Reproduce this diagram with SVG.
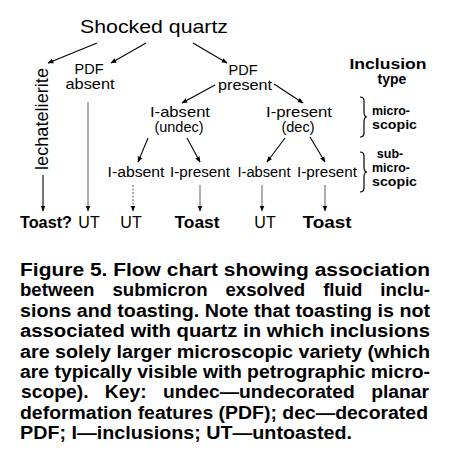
<svg xmlns="http://www.w3.org/2000/svg" width="449" height="471" viewBox="0 0 449 471">
<style>
text{font-family:"Liberation Sans",Arial,sans-serif;fill:#000}
.n{font-size:14.5px}
.r{font-size:14px}
.b{font-weight:bold}
.o{font-size:16px}
.lg{font-size:12.5px;font-weight:bold}
.cap{font-size:17.5px;font-weight:bold}
.c{stroke:#000;stroke-width:1.1;fill:none;marker-end:url(#ah)}
.t{stroke:#333;stroke-width:0.8;fill:none;marker-end:url(#ah)}
.br{stroke:#000;stroke-width:1.2;fill:none}
</style>
<defs>
<marker id="ah" viewBox="0 0 10 10" refX="9" refY="5" markerWidth="6" markerHeight="6" orient="auto" markerUnits="userSpaceOnUse">
<path d="M0,1 L10,5 L0,9 z" fill="#000"/>
</marker>
</defs>
<rect width="449" height="471" fill="#fff"/>

<g id="root"><text x="80" y="33" font-size="19" textLength="148" lengthAdjust="spacingAndGlyphs">Shocked quartz</text></g>
<g id="lechatelierite"><text transform="translate(48,170) rotate(-90)" font-size="18" textLength="102" lengthAdjust="spacingAndGlyphs">lechatelierite</text></g>
<g id="pdf-absent"><text x="89" y="74" class="n" text-anchor="middle">PDF</text><text x="90" y="89" class="n" text-anchor="middle" textLength="49" lengthAdjust="spacingAndGlyphs">absent</text></g>
<g id="pdf-present"><text x="243" y="75" class="n" text-anchor="middle">PDF</text><text x="245" y="90" class="n" text-anchor="middle" textLength="54" lengthAdjust="spacingAndGlyphs">present</text></g>
<g id="i-absent-undec"><text x="180" y="117" class="n" text-anchor="middle" textLength="60" lengthAdjust="spacingAndGlyphs">I-absent</text><text x="179" y="132" class="n" text-anchor="middle">(undec)</text></g>
<g id="i-present-dec"><text x="299" y="117" class="n" text-anchor="middle" textLength="66" lengthAdjust="spacingAndGlyphs">I-present</text><text x="298" y="132" class="n" text-anchor="middle">(dec)</text></g>
<g id="i-absent-1"><text x="136" y="177" class="r" text-anchor="middle" textLength="57" lengthAdjust="spacingAndGlyphs">I-absent</text></g>
<g id="i-present-1"><text x="200" y="177" class="r" text-anchor="middle" textLength="60" lengthAdjust="spacingAndGlyphs">I-present</text></g>
<g id="i-absent-2"><text x="264" y="177" class="r" text-anchor="middle" textLength="53" lengthAdjust="spacingAndGlyphs">I-absent</text></g>
<g id="i-present-2"><text x="327" y="177" class="r" text-anchor="middle" textLength="60" lengthAdjust="spacingAndGlyphs">I-present</text></g>
<g id="out-toast-q"><text x="20" y="228" class="o b" textLength="52" lengthAdjust="spacingAndGlyphs">Toast?</text></g>
<g id="out-ut-1"><text x="89" y="228" class="o" text-anchor="middle">UT</text></g>
<g id="out-ut-2"><text x="131" y="228" class="o" text-anchor="middle">UT</text></g>
<g id="out-toast-1"><text x="197" y="228" class="o b" text-anchor="middle" textLength="45" lengthAdjust="spacingAndGlyphs">Toast</text></g>
<g id="out-ut-3"><text x="265" y="228" class="o" text-anchor="middle">UT</text></g>
<g id="out-toast-2"><text x="327" y="228" class="o b" text-anchor="middle" textLength="49" lengthAdjust="spacingAndGlyphs">Toast</text></g>

<g id="legend">
<text x="388" y="69" font-size="14" class="b" text-anchor="middle" textLength="77" lengthAdjust="spacingAndGlyphs">Inclusion</text>
<text x="392" y="84" font-size="14" class="b" text-anchor="middle">type</text>
<path class="br" d="M360,97 q4,0 4,4 v11 q0,5 3,5 q-3,0 -3,5 v11 q0,4 -4,4"/>
<text x="372" y="115" class="lg" textLength="38" lengthAdjust="spacingAndGlyphs">micro-</text>
<text x="372" y="129" class="lg" textLength="45" lengthAdjust="spacingAndGlyphs">scopic</text>
<path class="br" d="M360,152 q4,0 4,4 v11 q0,5 3,5 q-3,0 -3,5 v11 q0,4 -4,4"/>
<text x="390" y="158" class="lg" text-anchor="middle">sub-</text>
<text x="372" y="172" class="lg" textLength="38" lengthAdjust="spacingAndGlyphs">micro-</text>
<text x="372" y="186" class="lg" textLength="45" lengthAdjust="spacingAndGlyphs">scopic</text>
</g>

<g id="connectors">
<line class="c" x1="97" y1="43" x2="48" y2="63"/>
<line class="c" x1="146" y1="43" x2="111" y2="63"/>
<line class="c" x1="193" y1="43" x2="227" y2="63"/>
<line class="c" x1="215" y1="85" x2="182" y2="103"/>
<line class="c" x1="274" y1="84" x2="303" y2="103"/>
<line class="c" x1="148" y1="138" x2="138" y2="162"/>
<line class="c" x1="187" y1="138" x2="200" y2="162"/>
<line class="c" x1="285" y1="138" x2="267" y2="162"/>
<line class="c" x1="310" y1="137" x2="325" y2="162"/>
<line class="c" x1="43" y1="175" x2="43" y2="211"/>
<line class="t" x1="88" y1="102" x2="88" y2="211"/>
<line class="t" x1="133" y1="185" x2="133" y2="211" stroke-dasharray="2,1.5"/>
<line class="t" x1="200" y1="185" x2="200" y2="211"/>
<line class="t" x1="262" y1="185" x2="262" y2="211"/>
<line class="t" x1="325" y1="185" x2="325" y2="211"/>
</g>

<g id="caption">
<text x="20" y="276" class="cap" textLength="410" lengthAdjust="spacingAndGlyphs">Figure 5. Flow chart showing association</text>
<text x="20" y="296.4" class="cap" word-spacing="12" textLength="410" lengthAdjust="spacingAndGlyphs">between submicron exsolved fluid inclu-</text>
<text x="20" y="316.8" class="cap" textLength="410" lengthAdjust="spacingAndGlyphs">sions and toasting. Note that toasting is not</text>
<text x="20" y="337.2" class="cap" textLength="410" lengthAdjust="spacingAndGlyphs">associated with quartz in which inclusions</text>
<text x="20" y="357.6" class="cap" textLength="410" lengthAdjust="spacingAndGlyphs">are solely larger microscopic variety (which</text>
<text x="20" y="378" class="cap" textLength="410" lengthAdjust="spacingAndGlyphs">are typically visible with petrographic micro-</text>
<text x="21" y="398.4" class="cap" word-spacing="10" textLength="408" lengthAdjust="spacingAndGlyphs">scope). Key: undec—undecorated planar</text>
<text x="20" y="418.8" class="cap" textLength="408" lengthAdjust="spacingAndGlyphs">deformation features (PDF); dec—decorated</text>
<text x="20" y="439.2" class="cap" textLength="332" lengthAdjust="spacingAndGlyphs">PDF; I—inclusions; UT—untoasted.</text>
</g>
</svg>
